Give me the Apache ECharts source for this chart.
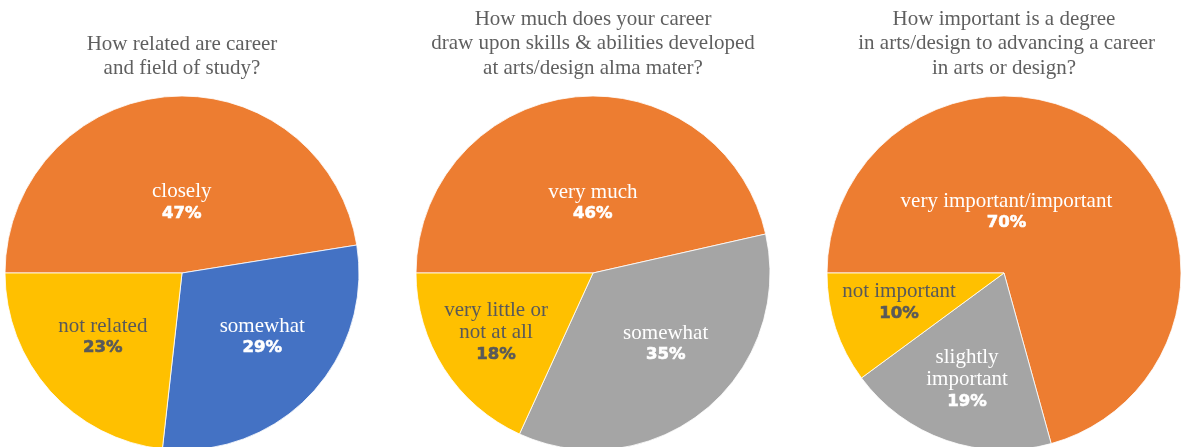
<!DOCTYPE html>
<html>
<head>
<meta charset="utf-8">
<script src="https://cdn.jsdelivr.net/npm/echarts@6/dist/echarts.min.js"></script>
<style>
  html, body { margin: 0; padding: 0; background: #fff; }
  #chart { width: 1181px; height: 447px; }
</style>
</head>
<body>
<div id="chart"></div>
<script>
// ---- data ----
const titles = [
  'How related are career\nand field of study?',
  'How much does your career\ndraw upon skills & abilities developed\nat arts/design alma mater?',
  'How important is a degree\n in arts/design to advancing a career\nin arts or design?'
];
const q1Labels = ['closely', 'somewhat', 'not related'];
const q1Values = [47, 29, 23];
const q2Labels = ['very much', 'somewhat', 'very little or\nnot at all'];
const q2Values = [46, 35, 18];
const q3Labels = ['very important/important', 'slightly\nimportant', 'not important'];
const q3Values = [70, 19, 10];

// ---- styles ----
const ORANGE = '#ED7D31', BLUE = '#4472C4', YELLOW = '#FFC000', GRAY = '#A5A5A5';
const sliceColors = [
  [ORANGE, BLUE, YELLOW],
  [ORANGE, GRAY, YELLOW],
  [ORANGE, GRAY, YELLOW]
];
const centers = [[182, 273], [593, 273], [1004, 273]];
const titleTops = [32, 7, 7];
const R = 177;
// label nudges (px) relative to library-computed inside position
const labelNudge = [
  [[7, 21], [14, 1], [-11, 3]],
  [[10, 21], [15, 0], [-20, 10]],
  [[-53, 12], [-7, 20], [-18, 1]]
];
const allLabels = [q1Labels, q2Labels, q3Labels];
const allValues = [q1Values, q2Values, q3Values];

const serifFont = "'Liberation Serif', 'DejaVu Serif', serif";
const boldFont = "'DejaVu Sans', 'Liberation Sans', sans-serif";
const DARK = '#595959';

const chart = echarts.init(document.getElementById('chart'), null, { renderer: 'canvas' });

const series = allLabels.map((labels, si) => ({
  type: 'pie',
  center: centers[si],
  radius: R,
  startAngle: 180,
  clockwise: true,
  silent: true,
  animation: false,
  avoidLabelOverlap: false,
  itemStyle: { borderColor: '#ffffff', borderWidth: 0.8 },
  label: {
    show: true,
    position: 'inside',
    formatter: function (p) {
      const dark = p.color === YELLOW;
      return '{' + (dark ? 'nd' : 'nw') + '|' + p.name + '}\n{' + (dark ? 'pd' : 'pw') + '|' + p.value + '%}';
    },
    rich: {
      nw: { fontFamily: serifFont, fontSize: 21, color: '#ffffff', lineHeight: 22, align: 'center' },
      nd: { fontFamily: serifFont, fontSize: 21, color: DARK, lineHeight: 22, align: 'center' },
      pw: { fontFamily: boldFont, fontWeight: 'bold', fontSize: 16.5, color: '#ffffff', lineHeight: 22, align: 'center',
            textBorderColor: '#ffffff', textBorderWidth: 0.6 },
      pd: { fontFamily: boldFont, fontWeight: 'bold', fontSize: 16.5, color: DARK, lineHeight: 22, align: 'center',
            textBorderColor: DARK, textBorderWidth: 0.6 }
    }
  },
  labelLine: { show: false },
  labelLayout: function (params) {
    const n = labelNudge[si][params.dataIndex];
    return { dx: n[0], dy: n[1] };
  },
  data: labels.map((name, i) => ({
    name: name,
    value: allValues[si][i],
    itemStyle: { color: sliceColors[si][i] }
  }))
}));

const option = {
  backgroundColor: '#ffffff',
  animation: false,
  title: titles.map((t, i) => ({
    text: t,
    left: centers[i][0],
    top: titleTops[i],
    textAlign: 'center',
    padding: 0,
    textStyle: {
      fontFamily: serifFont,
      fontWeight: 'normal',
      fontSize: 21,
      lineHeight: 24.5,
      color: '#5f5f5f'
    }
  })),
  series: series
};
chart.setOption(option);
</script>
</body>
</html>
